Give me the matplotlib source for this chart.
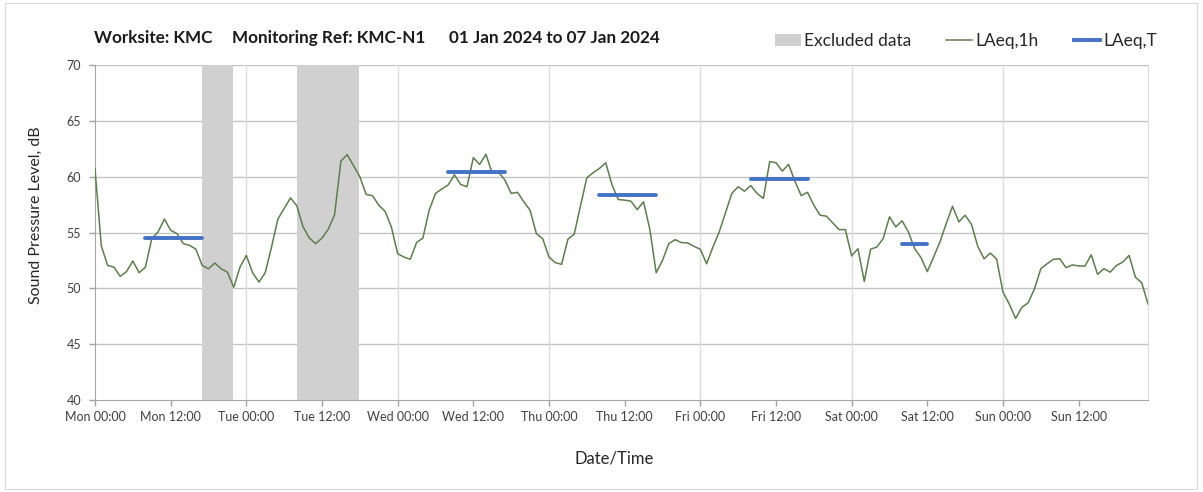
import numpy as np
import matplotlib
matplotlib.use("Agg")
import matplotlib.pyplot as plt
from matplotlib.lines import Line2D
from matplotlib.patches import Patch, Rectangle

# ---- data ----
laeq_1h = [
    60.7, 53.8, 52.05, 51.9, 51.07, 51.5, 52.45, 51.4, 51.9, 54.45, 55.05, 56.2,
    55.2, 54.9, 54.0, 53.85, 53.5, 52.05, 51.75, 52.27, 51.75, 51.45, 50.1, 51.9,
    52.95, 51.4, 50.56, 51.4, 53.7, 56.2, 57.15, 58.1, 57.4, 55.5, 54.5, 54.0,
    54.5, 55.3, 56.6, 61.4, 61.97, 60.98, 60.0, 58.4, 58.3, 57.45, 56.9, 55.5,
    53.1, 52.8, 52.6, 54.1, 54.5, 57.0, 58.5, 58.9, 59.25, 60.17, 59.3, 59.1,
    61.7, 61.1, 62.0, 60.3, 60.4, 59.7, 58.5, 58.6, 57.75, 57.0, 54.9, 54.45,
    52.8, 52.3, 52.15, 54.4, 54.85, 57.4, 59.9, 60.35, 60.74, 61.25, 59.25, 57.95,
    57.9, 57.8, 57.05, 57.75, 55.26, 51.4, 52.5, 54.0, 54.36, 54.1, 54.06, 53.76,
    53.5, 52.2, 53.7, 55.05, 56.76, 58.5, 59.1, 58.7, 59.2, 58.5, 58.05, 61.35,
    61.25, 60.5, 61.1, 59.6, 58.3, 58.6, 57.45, 56.55, 56.46, 55.86, 55.26, 55.26,
    52.9, 53.55, 50.62, 53.5, 53.7, 54.45, 56.4, 55.5, 56.05, 55.05, 53.55, 52.75,
    51.5, 52.8, 54.15, 55.8, 57.35, 55.95, 56.55, 55.74, 53.76, 52.65, 53.16, 52.6,
    49.66, 48.6, 47.3, 48.3, 48.7, 49.96, 51.76, 52.2, 52.6, 52.65, 51.85, 52.1,
    52.0, 52.0, 53.0, 51.25, 51.76, 51.45, 52.05, 52.35, 52.95, 51.0, 50.5, 48.6,
]
# LAeq,T periods (start hour, end hour, level)
laeqT_start = [8, 56, 80, 104, 128]
laeqT_end = [17, 65, 89, 113, 132]
laeqT_level = [54.55, 60.45, 58.4, 59.8, 54.0]
# excluded periods (start hour, end hour)
excl_start = [17.0, 32.0]
excl_end = [21.9, 41.8]

tick_labels = ["Mon 00:00", "Mon 12:00", "Tue 00:00", "Tue 12:00", "Wed 00:00",
               "Wed 12:00", "Thu 00:00", "Thu 12:00", "Fri 00:00", "Fri 12:00",
               "Sat 00:00", "Sat 12:00", "Sun 00:00", "Sun 12:00"]

FONT = ["Lato", "DejaVu Sans"]
plt.rcParams['font.family'] = FONT

W, H = 1203, 492
fig = plt.figure(figsize=(W / 100, H / 100), dpi=100)
fig.patch.set_facecolor("white")
ax = fig.add_axes([95 / W, 1 - 400 / H, (1148 - 95) / W, (400 - 65) / H])

hours = np.arange(len(laeq_1h))
ax.set_xlim(0, len(laeq_1h) - 1)
ax.set_ylim(40, 70)

for s, e in zip(excl_start, excl_end):
    ax.axvspan(s, e, color="#d0d0d0", lw=0, zorder=1)

# grids
for y in range(45, 71, 5):
    ax.axhline(y, color="#c4c4c4", lw=1.0, zorder=0.5)
for x in range(24, 168, 24):
    ax.axvline(x, color="#dcdcdc", lw=1.0, zorder=0.5)

ax.plot(hours, laeq_1h, color="#5e7d4e", lw=1.1, zorder=3)
for s, e, v in zip(laeqT_start, laeqT_end, laeqT_level):
    ax.plot([s, e], [v, v], color="#4472c4", lw=2.8, solid_capstyle="round", zorder=4)

ax.set_yticks(range(40, 71, 5))
ax.set_xticks(range(0, 157, 12))
ax.set_xticklabels(tick_labels)
ax.tick_params(axis="both", labelsize=9, colors="#a0a0a0", labelcolor="#404040",
               length=4, width=1)
ax.tick_params(axis="x", pad=4)
ax.tick_params(axis="y", pad=6)
ax.spines["top"].set_visible(False)
ax.spines["left"].set_color("#a6a6a6")
ax.spines["bottom"].set_color("#a6a6a6")
ax.spines["right"].set_color("#dcdcdc")

ax.set_ylabel("Sound Pressure Level, dB", fontsize=11.5, color="#262626")
ax.yaxis.set_label_coords((43 - 95) / 1053, (400 - 215) / 335)
ax.set_xlabel("Date/Time", fontsize=12, color="#262626")
ax.xaxis.set_label_coords((614 - 95) / 1053, -(450 - 400) / 335)

# title pieces
ty = 1 - 38 / H
tkw = dict(fontsize=12.3, fontweight="bold", va="center", color="#1a1a1a")
fig.text(94 / W, ty, "Worksite: KMC", **tkw)
fig.text(232 / W, ty, "Monitoring Ref: KMC-N1", **tkw)
fig.text(449 / W, ty, "01 Jan 2024 to 07 Jan 2024", **tkw)

handles = [Patch(facecolor="#d0d0d0", edgecolor="none"),
           Line2D([], [], color="#5e7d4e", lw=1.1),
           Line2D([], [], color="#4472c4", lw=2.8)]
labels = ["Excluded data", "LAeq,1h", "LAeq,T"]
fig.legend(handles, labels, ncol=3, loc="center left",
           bbox_to_anchor=(759 / W, 1 - 41 / H), frameon=False, fontsize=12.5,
           handlelength=1.5, handleheight=0.75, handletextpad=0.2, columnspacing=2.0,
           labelcolor="#262626")

# outer chart border
fig.add_artist(Rectangle((5 / W, 3 / H), (1197 - 5) / W, (489 - 3) / H,
                         transform=fig.transFigure, fill=False, edgecolor="#d9d9d9", lw=0.8))

fig.savefig("out.png", dpi=100)
